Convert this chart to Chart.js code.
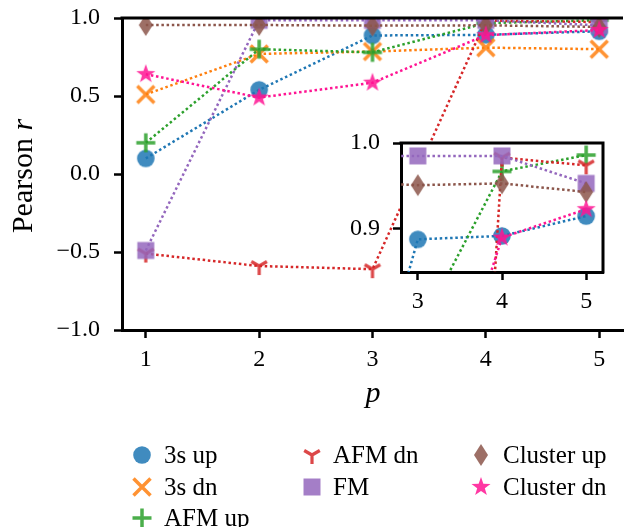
<!DOCTYPE html>
<html>
<head>
<meta charset="utf-8">
<script src="https://cdn.jsdelivr.net/npm/chart.js@4.4.1/dist/chart.umd.min.js"></script>
<style>
  html, body { margin: 0; padding: 0; background: #fff; }
  #wrap { position: relative; width: 627px; height: 527px; }
  #main { position: absolute; left: 0; top: 0; }
  #inset { position: absolute; left: 330px; top: 125px; }
</style>
</head>
<body>
<div id="wrap">
  <canvas id="main" width="627" height="527" style="width:627px;height:527px"></canvas>
  <canvas id="inset" width="297" height="200" style="width:297px;height:200px"></canvas>
</div>
<script>
// data
const pValues = [1, 2, 3, 4, 5];
const seriesNames = ['3s up', '3s dn', 'AFM up', 'AFM dn', 'FM', 'Cluster up', 'Cluster dn'];
const threeSUp = [0.10, 0.54, 0.888, 0.892, 0.915];
const threeSDn = [0.51, 0.77, 0.785, 0.81, 0.80];
const afmUp = [0.20, 0.80, 0.78, 0.967, 0.986];
const afmDn = [-0.51, -0.59, -0.61, 0.983, 0.974];
const fm = [-0.49, 0.985, 0.985, 0.985, 0.953];
const clusterUp = [0.955, 0.955, 0.951, 0.953, 0.943];
const clusterDn = [0.64, 0.49, 0.585, 0.89, 0.923];
const mainYTicks = [-1, -0.5, 0, 0.5, 1];
const insetXTicks = [3, 4, 5];
const insetYTicks = [0.9, 1.0];

const allSeries = [threeSUp, threeSDn, afmUp, afmDn, fm, clusterUp, clusterDn];
const colors = ['#1f77b4', '#ff7f0e', '#2ca02c', '#d62728', '#9467bd', '#8c564b', '#ff1493'];
const markerKinds = ['circle', 'x', 'plus', 'tri', 'square', 'diamond', 'star'];

const FONT = "'Liberation Serif', 'DejaVu Serif', serif";

function makeMarker(kind, color) {
  const c = document.createElement('canvas');
  const s = 26;
  c.width = s; c.height = s;
  const g = c.getContext('2d');
  g.translate(s / 2, s / 2);
  g.globalAlpha = 0.85;
  g.fillStyle = color;
  g.strokeStyle = color;
  g.lineWidth = 3.5;
  g.beginPath();
  if (kind === 'circle') {
    g.arc(0, 0, 8.8, 0, Math.PI * 2);
    g.fill();
  } else if (kind === 'x') {
    g.moveTo(-8.5, -8.5); g.lineTo(8.5, 8.5);
    g.moveTo(-8.5, 8.5); g.lineTo(8.5, -8.5);
    g.stroke();
  } else if (kind === 'plus') {
    g.moveTo(-9.5, 0); g.lineTo(9.5, 0);
    g.moveTo(0, -9.5); g.lineTo(0, 9.5);
    g.stroke();
  } else if (kind === 'tri') {
    g.lineWidth = 3.2;
    g.moveTo(0, 0); g.lineTo(0, 9);
    g.moveTo(0, 0); g.lineTo(-7.8, -4.5);
    g.moveTo(0, 0); g.lineTo(7.8, -4.5);
    g.stroke();
  } else if (kind === 'square') {
    g.rect(-8.5, -8.5, 17, 17);
    g.fill();
  } else if (kind === 'diamond') {
    g.moveTo(0, -11); g.lineTo(7, 0); g.lineTo(0, 11); g.lineTo(-7, 0);
    g.closePath();
    g.fill();
  } else if (kind === 'star') {
    for (let i = 0; i < 10; i++) {
      const r = i % 2 === 0 ? 10 : 4;
      const a = -Math.PI / 2 + i * Math.PI / 5;
      if (i === 0) g.moveTo(r * Math.cos(a), r * Math.sin(a));
      else g.lineTo(r * Math.cos(a), r * Math.sin(a));
    }
    g.closePath();
    g.fill();
  }
  return c;
}

const markers = markerKinds.map((k, i) => makeMarker(k, colors[i]));

function buildDatasets() {
  return allSeries.map((vals, i) => ({
    label: seriesNames[i],
    data: pValues.map((p, j) => ({ x: p, y: vals[j] })),
    borderColor: colors[i],
    borderWidth: 2.5,
    borderDash: [2.5, 2.7],
    borderCapStyle: 'butt',
    pointStyle: markers[i],
    pointRadius: 1,
    pointBorderWidth: 0,
    tension: 0,
    fill: false,
    clip: 0,
    order: allSeries.length - i
  }));
}

function fmtTick(v) {
  return (v < 0 ? '\u2212' : '') + Math.abs(v).toFixed(1);
}

function axis(min, max, tickVals, fit, pad, labelFn) {
  return {
    type: 'linear',
    min: min,
    max: max,
    z: 1,
    afterBuildTicks: s => { s.ticks = tickVals.map(v => ({ value: v })); },
    afterFit: s => {
      fit(s);
      s.paddingLeft = 0; s.paddingRight = 0;
      s.paddingTop = 0; s.paddingBottom = 0;
    },
    ticks: {
      callback: labelFn,
      color: '#000',
      font: { family: FONT, size: 24 },
      padding: pad,
      maxRotation: 0,
      autoSkip: false
    },
    grid: { drawOnChartArea: false, drawTicks: true, tickLength: 8, tickWidth: 2.5, tickColor: '#000' },
    border: { display: true, color: '#000', width: 3 }
  };
}

const mainDecor = {
  id: 'mainDecor',
  afterDraw(chart) {
    const ctx = chart.ctx;
    const a = chart.chartArea;
    ctx.save();
    // top spine
    ctx.strokeStyle = '#000';
    ctx.lineWidth = 3;
    ctx.beginPath();
    ctx.moveTo(a.left - 1.5, a.top);
    ctx.lineTo(a.right, a.top);
    ctx.stroke();

    ctx.fillStyle = '#000';
    // x label
    ctx.font = 'italic 30px ' + FONT;
    ctx.textAlign = 'center';
    ctx.textBaseline = 'alphabetic';
    ctx.fillText('p', 373, 402);

    // y label
    ctx.save();
    ctx.translate(32, 176);
    ctx.rotate(-Math.PI / 2);
    ctx.font = '30px ' + FONT;
    const w1 = ctx.measureText('Pearson ').width;
    ctx.font = 'italic 30px ' + FONT;
    const w2 = ctx.measureText('r').width;
    let x0 = -(w1 + w2) / 2;
    ctx.textAlign = 'left';
    ctx.font = '30px ' + FONT;
    ctx.fillText('Pearson ', x0, 0);
    ctx.font = 'italic 30px ' + FONT;
    ctx.fillText('r', x0 + w1, 0);
    ctx.restore();

    // legend, three columns filled top to bottom
    const cols = [[0, 1, 2], [3, 4], [5, 6]];
    const markX = [142, 312, 481];
    const textX = [164, 333, 503];
    const rowY = [455, 487, 518];
    ctx.font = '25px ' + FONT;
    ctx.textAlign = 'left';
    ctx.textBaseline = 'middle';
    cols.forEach((col, ci) => {
      col.forEach((si, ri) => {
        const m = markers[si];
        ctx.drawImage(m, markX[ci] - m.width / 2, rowY[ri] - m.height / 2);
        ctx.fillText(seriesNames[si], textX[ci], rowY[ri] + 1);
      });
    });
    ctx.restore();
  }
};

const insetDecor = {
  id: 'insetDecor',
  beforeDraw(chart) {
    const a = chart.chartArea;
    const ctx = chart.ctx;
    ctx.save();
    ctx.fillStyle = '#fff';
    ctx.fillRect(a.left, a.top, a.right - a.left, a.bottom - a.top);
    ctx.restore();
  },
  afterDraw(chart) {
    const a = chart.chartArea;
    const ctx = chart.ctx;
    ctx.save();
    ctx.strokeStyle = '#000';
    ctx.lineWidth = 3;
    ctx.beginPath();
    ctx.moveTo(a.left - 1.5, a.top);
    ctx.lineTo(a.right, a.top);
    ctx.lineTo(a.right, a.bottom + 1.5);
    ctx.stroke();
    ctx.restore();
  }
};

new Chart(document.getElementById('main'), {
  type: 'line',
  data: { datasets: buildDatasets() },
  options: {
    responsive: false,
    animation: false,
    devicePixelRatio: 1,
    layout: { padding: { left: 0, top: 18, right: 0, bottom: 0 } },
    plugins: { legend: { display: false }, tooltip: { enabled: false } },
    scales: {
      x: axis(0.79, 5.21, pValues, s => { s.height = 197; }, 7, v => String(v)),
      y: axis(-1, 1, mainYTicks, s => { s.width = 122; }, 14, fmtTick)
    }
  },
  plugins: [mainDecor]
});

new Chart(document.getElementById('inset'), {
  type: 'line',
  data: { datasets: buildDatasets() },
  options: {
    responsive: false,
    animation: false,
    devicePixelRatio: 1,
    layout: { padding: { left: 0, top: 18, right: 24, bottom: 0 } },
    plugins: { legend: { display: false }, tooltip: { enabled: false } },
    scales: {
      x: axis(2.8, 5.2, insetXTicks, s => { s.height = 53; }, 7, v => String(v)),
      y: axis(0.85, 1.0, insetYTicks, s => { s.width = 71; }, 13, fmtTick)
    }
  },
  plugins: [insetDecor]
});
</script>
</body>
</html>
